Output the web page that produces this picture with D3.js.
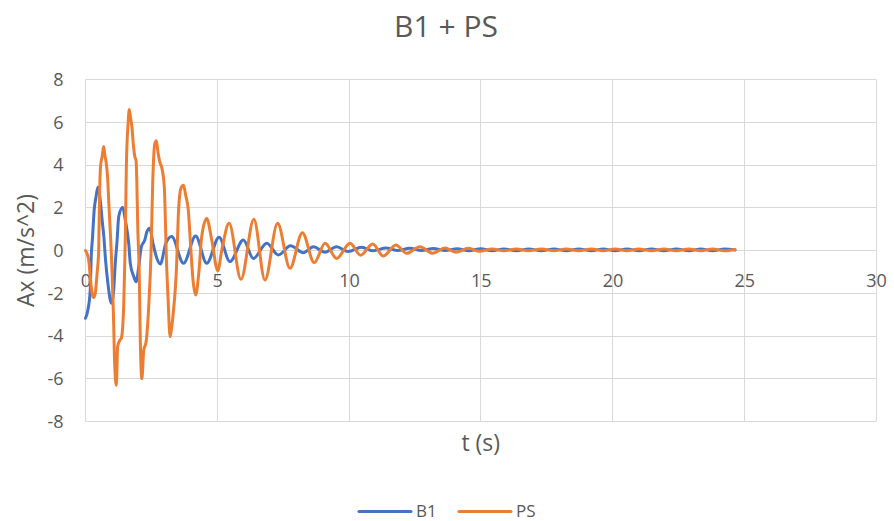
<!DOCTYPE html>
<html>
<head>
<meta charset="utf-8">
<script src="https://cdn.jsdelivr.net/npm/d3@7"></script>
<style>
  html, body { margin: 0; padding: 0; background: #fff; }
  svg { display: block; font-family: "Open Sans", "Noto Sans", sans-serif; }
</style>
</head>
<body>
<svg id="chart" width="894" height="521"></svg>
<script>
// Axis ticks
const xTicks = [0, 5, 10, 15, 20, 25, 30];
const yTicks = [-8, -6, -4, -2, 0, 2, 4, 6, 8];

// Series names
const seriesNames = ["B1", "PS"];

// B1: time (s) and acceleration Ax (m/s^2)
const b1Time = [
  0, 0.09, 0.18, 0.22, 0.26, 0.33, 0.40, 0.47, 0.56, 0.63, 0.70, 0.76, 0.85, 0.94, 1.00,
  1.07, 1.13, 1.20, 1.26, 1.41, 1.51, 1.64, 1.70, 1.83, 1.92, 2.02, 2.12, 2.25, 2.33, 2.44,
  2.56, 2.71, 2.84, 3.05, 3.27, 3.72, 4.18, 4.60, 5.07, 5.48, 5.99, 6.37, 6.88, 7.32, 7.78,
  8.27, 8.65, 9.09, 9.53, 9.97, 10.48, 10.92, 11.40, 11.85, 12.30, 12.75, 13.20, 13.65, 14.10,
  14.55, 15.00, 15.42, 15.88, 16.35, 16.82, 17.30, 17.78, 18.25, 18.72, 19.20, 19.65, 20.10,
  20.55, 21.00, 21.48, 21.95, 22.42, 22.90, 23.35, 23.80, 24.25, 24.65
];
const b1Accel = [
  -3.17, -2.78, -1.85, -0.20, 0.49, 1.90, 2.52, 2.96, 2.36, 1.43, 0.60, -0.44, -1.53, -2.32, -2.47,
  -1.85, -0.60, 0.49, 1.58, 2.02, 1.43, 0.34, -0.60, -1.22, -1.46, -0.76, 0.18, 0.49, 0.88, 1.04,
  0.34, -0.37, -0.63, 0.34, 0.65, -0.60, 0.68, -0.60, 0.62, -0.52, 0.49, -0.37, 0.34, -0.21, 0.22,
  -0.10, 0.18, -0.08, 0.17, -0.05, 0.15, -0.01, 0.12, 0.00, 0.10, 0.00, 0.09, 0.00, 0.08,
  -0.01, 0.08, -0.01, 0.07, -0.01, 0.07, -0.01, 0.07, -0.01, 0.07, -0.01, 0.07, -0.01,
  0.07, -0.01, 0.07, -0.01, 0.07, -0.01, 0.07, -0.01, 0.07, 0.02
];

// PS: time (s) and acceleration Ax (m/s^2)
const psTime = [
  0, 0.12, 0.18, 0.25, 0.31, 0.37, 0.44, 0.50, 0.53, 0.57, 0.63, 0.69, 0.73, 0.78, 0.84, 0.88,
  1.00, 1.06, 1.11, 1.17, 1.22, 1.30, 1.36, 1.45, 1.51, 1.55, 1.62, 1.66, 1.71, 1.76, 1.82,
  1.87, 1.92, 1.99, 2.04, 2.08, 2.14, 2.21, 2.30, 2.40, 2.49, 2.55, 2.63, 2.69, 2.75, 2.83,
  2.89, 2.99, 3.08, 3.13, 3.21, 3.27, 3.33, 3.46, 3.52, 3.62, 3.72, 3.80, 3.90, 4.00, 4.08,
  4.18, 4.31, 4.41, 4.60, 4.79, 5.02, 5.17, 5.45, 5.90, 6.39, 6.81, 7.29, 7.76, 8.23, 8.68,
  9.09, 9.53, 10.04, 10.44, 10.90, 11.30, 11.78, 12.19, 12.69, 13.18, 13.64, 14.05, 14.53,
  14.95, 15.42, 15.88, 16.35, 16.82, 17.30, 17.78, 18.25, 18.72, 19.20, 19.65, 20.10, 20.55,
  21.00, 21.48, 21.95, 22.42, 22.90, 23.35, 23.80, 24.25, 24.65
];
const psAccel = [
  0.00, -0.44, -1.22, -2.00, -2.20, -2.00, -1.07, 0.00, 2.36, 3.92, 4.39, 4.86, 4.50, 4.15, 3.40, 2.36,
  -0.76, -3.00, -5.40, -6.30, -4.50, -4.20, -4.10, -2.60, 0.50, 3.90, 6.00, 6.60, 6.20, 5.80, 4.90,
  4.40, 4.20, 0.80, -1.06, -4.20, -6.00, -4.66, -4.27, -2.60, 0.00, 3.14, 5.00, 5.14, 4.60, 4.10,
  3.90, 2.98, -0.76, -2.16, -4.03, -3.60, -2.94, -0.60, 1.58, 2.90, 3.05, 2.60, 1.90, 0.00, -1.38,
  -2.08, -0.91, 0.65, 1.50, 0.50, -0.95, 0.00, 1.27, -1.35, 1.46, -1.38, 1.27, -0.83, 0.83, -0.57,
  0.34, -0.37, 0.34, -0.22, 0.30, -0.26, 0.26, -0.13, 0.18, -0.13, 0.12, -0.08, 0.10,
  -0.04, 0.07, -0.01, 0.07, -0.01, 0.07, -0.01, 0.07, -0.01, 0.07, -0.01, 0.07, -0.01,
  0.07, -0.01, 0.07, -0.01, 0.07, -0.01, 0.07, -0.01, 0.05
];

const colors = { B1: "#4472C4", PS: "#ED7D31" };
const textColor = "#595959";
const gridColor = "#D9D9D9";

const svg = d3.select("#chart");
const plot = { left: 85.5, right: 876, top: 79.5, bottom: 421.5 };

const x = d3.scaleLinear().domain([0, 30]).range([plot.left, plot.right]);
const y = d3.scaleLinear().domain([-8, 8]).range([plot.bottom, plot.top]);
const snap = v => Math.round(v - 0.5) + 0.5;

// Gridlines
const grid = svg.append("g").attr("stroke", gridColor).attr("stroke-width", 1);
grid.selectAll("line.h").data(yTicks).join("line")
  .attr("class", "h")
  .attr("x1", plot.left).attr("x2", plot.right)
  .attr("y1", d => snap(y(d))).attr("y2", d => snap(y(d)));
grid.selectAll("line.v").data(xTicks).join("line")
  .attr("class", "v")
  .attr("y1", plot.top).attr("y2", plot.bottom)
  .attr("x1", d => snap(x(d))).attr("x2", d => snap(x(d)));

// Tick labels (plain hyphen for negatives)
const tickFont = 18;
const fmt = d => String(d);
const yAxis = svg.append("g")
  .attr("transform", `translate(${plot.left},0)`)
  .call(d3.axisLeft(y).tickValues(yTicks).tickFormat(fmt).tickSize(0).tickPadding(22));
const xAxis = svg.append("g")
  .attr("transform", `translate(0,${y(0)})`)
  .call(d3.axisBottom(x).tickValues(xTicks).tickFormat(fmt).tickSize(0).tickPadding(24));
[xAxis, yAxis].forEach(a => {
  a.select(".domain").remove();
  a.selectAll("text")
    .attr("fill", textColor)
    .style("font-size", tickFont + "px")
    .style("font-family", "\"Open Sans\", sans-serif");
});

// Series lines
const line = d3.line()
  .x(d => x(d[0]))
  .y(d => y(d[1]))
  .curve(d3.curveMonotoneX);

const series = [
  { name: "B1", data: d3.zip(b1Time, b1Accel) },
  { name: "PS", data: d3.zip(psTime, psAccel) }
];

svg.append("g").selectAll("path").data(series).join("path")
  .attr("d", d => line(d.data))
  .attr("fill", "none")
  .attr("stroke", d => colors[d.name])
  .attr("stroke-width", 3)
  .attr("stroke-linejoin", "round")
  .attr("stroke-linecap", "round");

// Titles
svg.append("text")
  .attr("x", 446).attr("y", 37)
  .attr("text-anchor", "middle")
  .attr("fill", textColor)
  .style("font-size", "30px")
  .text("B1 + PS");

svg.append("text")
  .attr("transform", `translate(34,${(plot.top + plot.bottom) / 2}) rotate(-90)`)
  .attr("text-anchor", "middle")
  .attr("fill", textColor)
  .style("font-size", "23px")
  .text("Ax (m/s^2)");

svg.append("text")
  .attr("x", (plot.left + plot.right) / 2).attr("y", 451)
  .attr("text-anchor", "middle")
  .attr("fill", textColor)
  .style("font-size", "23px")
  .text("t (s)");

// Legend
const legendItems = [
  { name: seriesNames[0], x0: 359 },
  { name: seriesNames[1], x0: 459 }
];
const legendY = 510.5;
const legend = svg.append("g");
legendItems.forEach(item => {
  legend.append("line")
    .attr("x1", item.x0).attr("x2", item.x0 + 52)
    .attr("y1", legendY + 1).attr("y2", legendY + 1)
    .attr("stroke", colors[item.name])
    .attr("stroke-width", 3)
    .attr("stroke-linecap", "round");
  legend.append("text")
    .attr("x", item.x0 + 57).attr("y", legendY + 6)
    .attr("fill", textColor)
    .style("font-size", "17px")
    .text(item.name);
});
</script>
</body>
</html>
